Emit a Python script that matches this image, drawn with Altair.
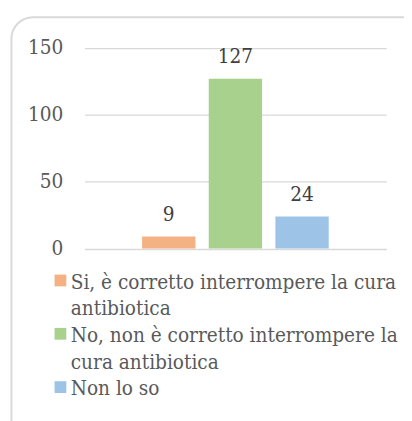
import altair as alt
import pandas as pd

categories = [
    "Si, è corretto interrompere la cura antibiotica",
    "No, non è corretto interrompere la cura antibiotica",
    "Non lo so",
]
# legend text as shown, one list of lines per category
legend_lines = [
    ["Si, è corretto interrompere la cura", "antibiotica"],
    ["No, non è corretto interrompere la", "cura antibiotica"],
    ["Non lo so"],
]
values = [9, 127, 24]
colors = ["#F4B183", "#A9D18E", "#9DC3E6"]
y_ticks = [0, 50, 100, 150]

df = pd.DataFrame({"cat": categories, "val": values})

# legend rows: the first line of each label carries the colour symbol,
# continuation lines get an invisible symbol
legend_domain, legend_range, legend_text = [], [], []
for cat, lines, col in zip(categories, legend_lines, colors):
    for i, line in enumerate(lines):
        legend_domain.append(cat if i == 0 else f"{cat} #{i}")
        legend_range.append(col if i == 0 else "transparent")
        legend_text.append(line)

label_expr = ""
for key, txt in zip(legend_domain[:-1], legend_text[:-1]):
    label_expr += f"datum.label == '{key}' ? '{txt}' : "
label_expr += f"'{legend_text[-1]}'"

FONT = "DejaVu Serif Condensed, DejaVu Serif"

x_enc = alt.X("cat:N", sort=categories, axis=None,
              scale=alt.Scale(paddingInner=0.2, paddingOuter=0.865))
y_enc = alt.Y("val:Q", scale=alt.Scale(domain=[0, 150], nice=False),
              axis=alt.Axis(values=y_ticks, title=None, domain=False, ticks=False,
                            grid=True, gridColor="#D9D9D9", gridWidth=1.3,
                            labelFont=FONT, labelFontSize=21, labelColor="#595959",
                            labelPadding=22))

frame = alt.Chart(pd.DataFrame({"a": [0]})).mark_rect(
    fill="transparent", stroke="#D9D9D9", strokeWidth=2, cornerRadius=22
).encode(x=alt.value(-74.5), x2=alt.value(360), y=alt.value(-31.5), y2=alt.value(420))

bars = alt.Chart(df).mark_bar().encode(
    x=x_enc,
    y=y_enc,
    color=alt.Color("cat:N",
                    scale=alt.Scale(domain=legend_domain, range=legend_range),
                    legend=alt.Legend(
                        title=None, orient="none", legendX=-35, legendY=229,
                        padding=0, symbolType="M-1,-1.4H1V0.6H-1Z", symbolSize=144,
                        symbolStrokeWidth=0, symbolOpacity=1,
                        labelFont=FONT, labelFontSize=21, labelColor="#595959",
                        labelBaseline="middle", labelOffset=0, labelLimit=500,
                        labelExpr=label_expr, rowPadding=5.2,
                    )),
)

labels = alt.Chart(df).mark_text(
    baseline="alphabetic", dy=-16, font=FONT, fontSize=21, color="#404040"
).encode(x=x_enc, y=y_enc, text="val:Q")

chart = alt.layer(frame, bars, labels).properties(
    width=308, height=204.6,
    autosize=alt.AutoSizeParams(type="none"),
    padding={"left": 78, "top": 36.7, "right": 18, "bottom": 171.7},
).configure_view(stroke=None)

chart.save("out.html", embed_options={"renderer": "svg", "actions": False})
